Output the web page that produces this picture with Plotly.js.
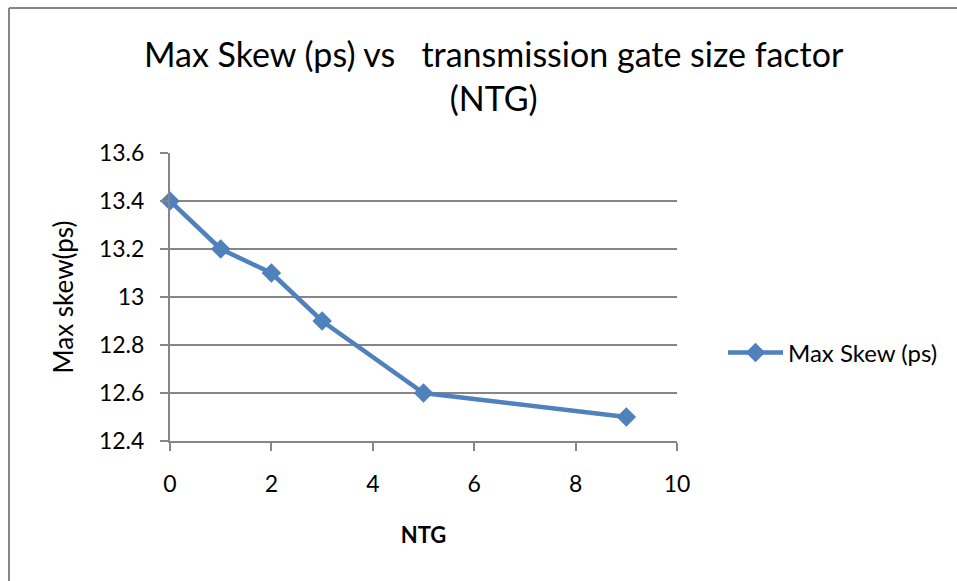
<!DOCTYPE html>
<html>
<head>
<meta charset="utf-8">
<script src="https://cdn.plot.ly/plotly-3.0.1.min.js"></script>
<style>
  html, body { margin: 0; padding: 0; background: #fff; }
  #chart { width: 957px; height: 581px; }
</style>
</head>
<body>
<div id="chart"></div>
<script>
// NTG (transmission gate size factor) and measured max skew in ps
const ntg = [0, 1, 2, 3, 5, 9];
const maxSkew = [13.4, 13.2, 13.1, 12.9, 12.6, 12.5];
const seriesName = 'Max Skew (ps)';
const chartTitle = 'Max Skew (ps) vs \u00a0 transmission gate size factor<br>(NTG)';
const xTicks = [0, 2, 4, 6, 8, 10];
const yTicks = [12.4, 12.6, 12.8, 13, 13.2, 13.4, 13.6];
const yTickText = ['12.4', '12.6', '12.8', '13', '13.2', '13.4', '13.6'];

const W = 957, H = 581;
const M = { l: 170, r: 280, t: 153, b: 140 };
const pw = W - M.l - M.r, ph = H - M.t - M.b;
const px = v => (v - M.l) / pw;          // pixel x -> paper x
const py = v => (H - M.b - v) / ph;      // pixel y -> paper y

const FONT = 'Lato, "Open Sans", "Liberation Sans", sans-serif';
const GRID = '#868686';

const trace = {
  x: ntg,
  y: maxSkew,
  name: seriesName,
  type: 'scatter',
  mode: 'lines+markers',
  line: { color: '#4F81BD', width: 4.5 },
  marker: { symbol: 'diamond', size: 15, color: '#4F81BD' },
  cliponaxis: false
};

const layout = {
  width: W,
  height: H,
  margin: M,
  paper_bgcolor: '#fff',
  plot_bgcolor: '#fff',
  font: { family: FONT, color: '#000' },
  xaxis: {
    range: [0, 10],
    tickvals: xTicks,
    ticks: 'outside', ticklen: 8, tickcolor: GRID, tickwidth: 2,
    ticklabelstandoff: 13,
    showline: true, linecolor: GRID, linewidth: 2,
    showgrid: false, zeroline: false,
    tickfont: { family: FONT, size: 23, color: '#000' },
    title: { text: '<b>NTG</b>', font: { family: FONT, size: 22, color: '#000' }, standoff: 32 }
  },
  yaxis: {
    range: [12.4, 13.6],
    tickvals: yTicks,
    ticktext: yTickText,
    ticks: 'outside', ticklen: 8, tickcolor: GRID, tickwidth: 2,
    ticklabelstandoff: 11,
    showline: true, linecolor: GRID, linewidth: 2,
    showgrid: true, gridcolor: GRID, gridwidth: 2,
    zeroline: false,
    tickfont: { family: FONT, size: 23, color: '#000' },
    title: { text: 'Max skew(ps)', font: { family: FONT, size: 26, color: '#000' }, standoff: 18 }
  },
  showlegend: true,
  legend: {
    x: px(723), xanchor: 'left',
    y: py(353), yanchor: 'middle',
    font: { family: FONT, size: 24, color: '#000' },
    bgcolor: 'rgba(0,0,0,0)',
    itemwidth: 55
  },
  annotations: [
    // chart title, two centred lines
    { text: chartTitle, xref: 'paper', yref: 'paper',
      x: px(494), y: py(75), xanchor: 'center', yanchor: 'middle',
      showarrow: false, align: 'center',
      font: { family: FONT, size: 34, color: '#000' } }
  ],
  shapes: [
    // outer chart frame (left and top edges)
    { type: 'line', xref: 'paper', yref: 'paper', x0: px(9), x1: px(9), y0: py(8), y1: py(585),
      line: { color: GRID, width: 2 } },
    { type: 'line', xref: 'paper', yref: 'paper', x0: px(9), x1: px(965), y0: py(8), y1: py(8),
      line: { color: GRID, width: 2 } }
  ]
};

Plotly.newPlot('chart', [trace], layout, { displayModeBar: false, staticPlot: true });
</script>
</body>
</html>
